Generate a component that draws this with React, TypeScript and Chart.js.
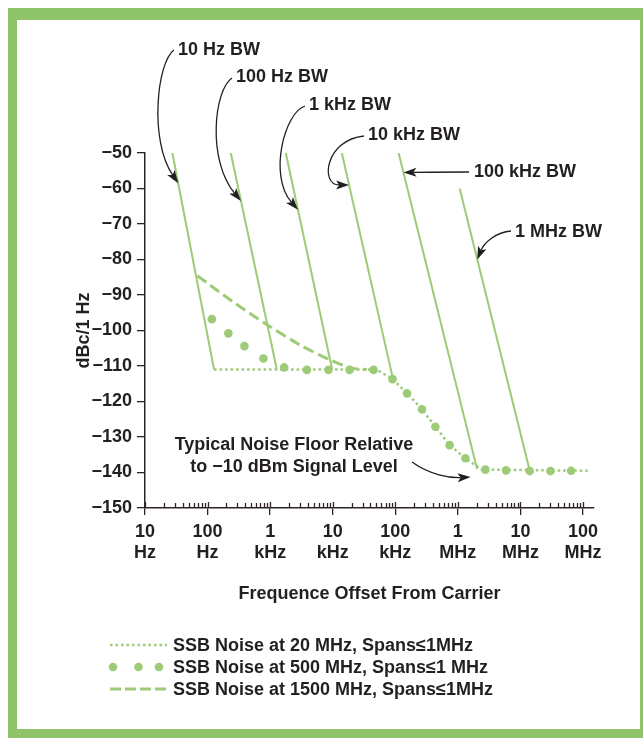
import React, { useEffect, useRef } from 'react';
import { Chart, registerables } from 'chart.js';

Chart.register(...registerables);

// ---------------- data ----------------
const X_TICK_VALUES = [10, 100, 1000, 10000, 100000, 1000000, 10000000, 100000000];
const X_TICK_NUMBERS = ['10', '100', '1', '10', '100', '1', '10', '100'];
const X_TICK_UNITS = ['Hz', 'Hz', 'kHz', 'kHz', 'kHz', 'MHz', 'MHz', 'MHz'];
const Y_TICK_VALUES = [-150, -140, -130, -120, -110, -100, -90, -80, -70, -60, -50];

const BW_LABELS = ['10 Hz BW', '100 Hz BW', '1 kHz BW', '10 kHz BW', '100 kHz BW', '1 MHz BW'];
const BW_TOP_FREQ = [27.4, 235, 1780, 14000, 113000, 1070000];
const BW_TOP_LEVEL = [-50, -50, -50, -50, -50, -60];
const BW_BOTTOM_FREQ = [127, 1280, 9800, 92000, 2030000, 14100000];
const BW_BOTTOM_LEVEL = [-111, -111, -111, -113.7, -139, -139.5];
const BW_ARROW_LEVEL = [-58.5, -63.5, -66, -59, -55.5, -80];

const SSB20_FREQ = [127, 50000, 90500, 154000, 267000, 437000, 740000, 1320000, 2400000, 120000000];
const SSB20_LEVEL = [-111, -111, -113.7, -117.7, -122.2, -127.1, -132.3, -136, -139.2, -139.5];

const SSB500_FREQ = [117, 215, 388, 781, 1675, 3870, 8570, 18600, 45000, 90500, 154000, 267000, 437000, 740000, 1320000, 2750000, 5900000, 14100000, 30200000, 64700000];
const SSB500_LEVEL = [-96.8, -100.8, -104.4, -107.9, -110.4, -111.1, -111.1, -111.1, -111.1, -113.7, -117.7, -122.2, -127.1, -132.3, -136, -139.2, -139.4, -139.6, -139.6, -139.5];

const SSB1500_FREQ = [68.7, 250, 919, 3020, 9120, 20000, 35000];
const SSB1500_LEVEL = [-84.6, -91.8, -98.5, -104.1, -108.3, -110.6, -111];

const LEGEND_LABELS = [
  'SSB Noise at 20 MHz, Spans\u22641MHz',
  'SSB Noise at 500 MHz, Spans\u22641 MHz',
  'SSB Noise at 1500 MHz, Spans\u22641MHz',
];
const NOTE_LINES = ['Typical Noise Floor Relative', 'to \u221210 dBm Signal Level'];
const NOTE_TIP = { f: 1600000, v: -141.3 };

const X_TITLE = 'Frequence Offset From Carrier';
const Y_TITLE = 'dBc/1 Hz';

// ---------------- layout / style ----------------
const W = 643;
const H = 738;
const CHART_LEFT = 145;
const CHART_TOP = 153;
const CHART_RIGHT = 594;
const CHART_BOTTOM = 508;
const X_MIN = 10;
const X_MAX = 150000000;

const GREEN = '#9dcb78';
const FRAME = '#8fc46b';
const INK = '#231f20';
const AXIS = '#2e2428';
const FONT = '"Liberation Sans", Arial, Helvetica, sans-serif';
const FONT_SIZE = 18;

const BW_TEXT_POS = [
  [178, 50],
  [236, 77],
  [309, 105],
  [368, 135],
  [474, 172],
  [515, 232],
];
// control points P0, P1, P2 (tip is computed on the data line)
const BW_CURVES = [
  [[174, 50], [157, 62], [149, 140]],
  [[232, 78], [214, 90], [207, 160]],
  [[305, 106], [285, 112], [268, 175]],
  [[364, 136], [325, 140], [320, 185]],
  [[469, 172], [450, 172], [430, 172]],
  [[511, 231], [496, 232], [484, 243]],
];
const NOTE_TEXT_X = 294;
const NOTE_TEXT_Y = [445, 467];
const NOTE_CURVE = [[412, 462], [430, 475], [450, 478]];

const LEGEND_X0 = 110;
const LEGEND_X1 = 167;
const LEGEND_TEXT_X = 173;
const LEGEND_Y = [645, 667, 689];

function pts(fs: number[], vs: number[]) {
  return fs.map((f, i) => ({ x: f, y: vs[i] }));
}

function drawArrow(ctx: CanvasRenderingContext2D, p: number[][], tip: number[]) {
  const [p0, p1, p2] = p;
  let dx = tip[0] - p2[0];
  let dy = tip[1] - p2[1];
  let len = Math.hypot(dx, dy);
  if (len < 0.01) {
    dx = tip[0] - p0[0];
    dy = tip[1] - p0[1];
    len = Math.hypot(dx, dy);
  }
  const ux = dx / len;
  const uy = dy / len;
  const headL = 13;
  const headW = 4.5;
  const bx = tip[0] - ux * headL;
  const by = tip[1] - uy * headL;
  ctx.save();
  ctx.strokeStyle = INK;
  ctx.lineWidth = 1.3;
  ctx.setLineDash([]);
  ctx.beginPath();
  ctx.moveTo(p0[0], p0[1]);
  ctx.bezierCurveTo(p1[0], p1[1], p2[0], p2[1], bx + ux * 3, by + uy * 3);
  ctx.stroke();
  ctx.fillStyle = INK;
  ctx.beginPath();
  ctx.moveTo(tip[0], tip[1]);
  ctx.lineTo(bx - uy * headW, by + ux * headW);
  ctx.lineTo(bx + ux * 3, by + uy * 3);
  ctx.lineTo(bx + uy * headW, by - ux * headW);
  ctx.closePath();
  ctx.fill();
  ctx.restore();
}

const decorPlugin = {
  id: 'decor',
  beforeDraw(chart: any) {
    const ctx: CanvasRenderingContext2D = chart.ctx;
    ctx.save();
    ctx.fillStyle = '#ffffff';
    ctx.fillRect(0, 0, W, H);
    ctx.fillStyle = FRAME;
    ctx.fillRect(8, 8, W - 8, H - 8);
    ctx.fillStyle = '#ffffff';
    ctx.fillRect(17, 20, 640 - 17, 729 - 20);
    ctx.restore();
  },
  afterDraw(chart: any) {
    const ctx: CanvasRenderingContext2D = chart.ctx;
    const xs = chart.scales.x;
    const ys = chart.scales.y;
    const bottom = chart.chartArea.bottom;
    ctx.save();
    // minor ticks (inside, above the axis)
    ctx.strokeStyle = AXIS;
    ctx.lineWidth = 1.3;
    ctx.beginPath();
    for (let d = 0; d < X_TICK_VALUES.length; d++) {
      const dec = X_TICK_VALUES[d];
      const px = Math.round(xs.getPixelForValue(dec)) + 0.5;
      ctx.moveTo(px, bottom - 6);
      ctx.lineTo(px, bottom);
      if (d < X_TICK_VALUES.length - 1) {
        for (let m = 2; m <= 9; m++) {
          const q = Math.round(xs.getPixelForValue(dec * m)) + 0.5;
          ctx.moveTo(q, bottom - 5);
          ctx.lineTo(q, bottom);
        }
      }
    }
    ctx.stroke();

    // BW annotations
    ctx.font = `bold ${FONT_SIZE}px ${FONT}`;
    ctx.fillStyle = INK;
    ctx.textBaseline = 'middle';
    ctx.textAlign = 'left';
    for (let i = 0; i < BW_LABELS.length; i++) {
      const t = (BW_ARROW_LEVEL[i] - BW_TOP_LEVEL[i]) / (BW_BOTTOM_LEVEL[i] - BW_TOP_LEVEL[i]);
      const lf = Math.log10(BW_TOP_FREQ[i]) + t * (Math.log10(BW_BOTTOM_FREQ[i]) - Math.log10(BW_TOP_FREQ[i]));
      const tip = [xs.getPixelForValue(Math.pow(10, lf)), ys.getPixelForValue(BW_ARROW_LEVEL[i])];
      drawArrow(ctx, BW_CURVES[i], tip);
      ctx.fillStyle = INK;
      ctx.fillText(BW_LABELS[i], BW_TEXT_POS[i][0], BW_TEXT_POS[i][1]);
    }

    // noise floor note
    ctx.textAlign = 'center';
    NOTE_LINES.forEach((line, i) => ctx.fillText(line, NOTE_TEXT_X, NOTE_TEXT_Y[i]));
    drawArrow(ctx, NOTE_CURVE, [xs.getPixelForValue(NOTE_TIP.f), ys.getPixelForValue(NOTE_TIP.v)]);

    // legend
    ctx.textAlign = 'left';
    ctx.strokeStyle = GREEN;
    ctx.fillStyle = GREEN;
    ctx.lineWidth = 2.5;
    ctx.setLineDash([2.5, 3]);
    ctx.beginPath();
    ctx.moveTo(LEGEND_X0, LEGEND_Y[0]);
    ctx.lineTo(LEGEND_X1, LEGEND_Y[0]);
    ctx.stroke();
    ctx.setLineDash([]);
    [LEGEND_X0 + 3, (LEGEND_X0 + LEGEND_X1) / 2, LEGEND_X1 - 8].forEach((cx) => {
      ctx.beginPath();
      ctx.arc(cx, LEGEND_Y[1], 4.3, 0, Math.PI * 2);
      ctx.fill();
    });
    ctx.lineWidth = 3;
    ctx.setLineDash([11, 4]);
    ctx.beginPath();
    ctx.moveTo(LEGEND_X0, LEGEND_Y[2]);
    ctx.lineTo(LEGEND_X1, LEGEND_Y[2]);
    ctx.stroke();
    ctx.setLineDash([]);
    ctx.fillStyle = INK;
    LEGEND_LABELS.forEach((label, i) => ctx.fillText(label, LEGEND_TEXT_X, LEGEND_Y[i] + 1));
    ctx.restore();
  },
};

export default function App() {
  const ref = useRef<HTMLCanvasElement | null>(null);

  useEffect(() => {
    if (!ref.current) return;
    const tickFont = { family: FONT, size: FONT_SIZE, weight: 'bold' as const, lineHeight: 1.2 };

    const bwDatasets = BW_LABELS.map((label, i) => ({
      label,
      data: pts([BW_TOP_FREQ[i], BW_BOTTOM_FREQ[i]], [BW_TOP_LEVEL[i], BW_BOTTOM_LEVEL[i]]),
      borderColor: GREEN,
      borderWidth: 2,
      pointRadius: 0,
      fill: false,
      tension: 0,
    }));

    const chart = new Chart(ref.current, {
      type: 'line',
      data: {
        datasets: [
          {
            label: LEGEND_LABELS[1],
            data: pts(SSB500_FREQ, SSB500_LEVEL),
            showLine: false,
            pointRadius: 4.3,
            pointBackgroundColor: GREEN,
            pointBorderWidth: 0,
            borderColor: GREEN,
            backgroundColor: GREEN,
          },
          {
            label: LEGEND_LABELS[0],
            data: pts(SSB20_FREQ, SSB20_LEVEL),
            borderColor: GREEN,
            borderWidth: 2.5,
            borderDash: [2.5, 3],
            pointRadius: 0,
            fill: false,
            tension: 0,
          },
          {
            label: LEGEND_LABELS[2],
            data: pts(SSB1500_FREQ, SSB1500_LEVEL),
            borderColor: GREEN,
            borderWidth: 3,
            borderDash: [11, 5],
            pointRadius: 0,
            fill: false,
            tension: 0.3,
          },
          ...bwDatasets,
        ],
      },
      options: {
        animation: false,
        responsive: false,
        devicePixelRatio: 1,
        events: [],
        layout: {
          padding: { left: 0, top: CHART_TOP, right: W - CHART_RIGHT, bottom: H - CHART_BOTTOM - 100 },
        },
        plugins: {
          legend: { display: false },
          tooltip: { enabled: false },
          title: { display: false },
        },
        scales: {
          x: {
            type: 'logarithmic',
            min: X_MIN,
            max: X_MAX,
            afterBuildTicks: (scale: any) => {
              scale.ticks = X_TICK_VALUES.map((v) => ({ value: v }));
            },
            afterFit: (scale: any) => {
              scale.height = 100;
            },
            ticks: {
              autoSkip: false,
              maxRotation: 0,
              minRotation: 0,
              padding: 6,
              color: INK,
              font: tickFont,
              callback: (_v: any, i: number) => [X_TICK_NUMBERS[i], X_TICK_UNITS[i]],
            },
            grid: {
              display: true,
              drawOnChartArea: false,
              drawTicks: true,
              tickLength: 7,
              color: AXIS,
              lineWidth: 1.3,
            },
            border: { display: true, color: AXIS, width: 1.5 },
            title: {
              display: true,
              text: X_TITLE,
              color: INK,
              font: { family: FONT, size: FONT_SIZE, weight: 'bold', lineHeight: 1.2 },
              padding: { top: 0, bottom: 3 },
            },
          },
          y: {
            type: 'linear',
            min: -150,
            max: -50,
            afterBuildTicks: (scale: any) => {
              scale.ticks = Y_TICK_VALUES.map((v) => ({ value: v }));
            },
            afterFit: (scale: any) => {
              scale.width = CHART_LEFT;
            },
            ticks: {
              padding: 5,
              color: INK,
              font: tickFont,
              callback: (v: any) => (Number(v) < 0 ? '\u2212' + Math.abs(Number(v)) : String(v)),
            },
            grid: {
              display: true,
              drawOnChartArea: false,
              drawTicks: true,
              tickLength: 8,
              color: AXIS,
              lineWidth: 1.3,
            },
            border: { display: true, color: AXIS, width: 1.5 },
            title: {
              display: true,
              text: Y_TITLE,
              color: INK,
              font: { family: FONT, size: FONT_SIZE, weight: 'bold', lineHeight: 1.2 },
              padding: { top: 73, bottom: 0 },
            },
          },
        },
      } as any,
      plugins: [decorPlugin],
    });
    return () => chart.destroy();
  }, []);

  return (
    <div style={{ position: 'fixed', left: 0, top: 0, width: W, height: H, background: '#fff' }}>
      <canvas ref={ref} width={W} height={H} style={{ display: 'block', width: W, height: H }} />
    </div>
  );
}
